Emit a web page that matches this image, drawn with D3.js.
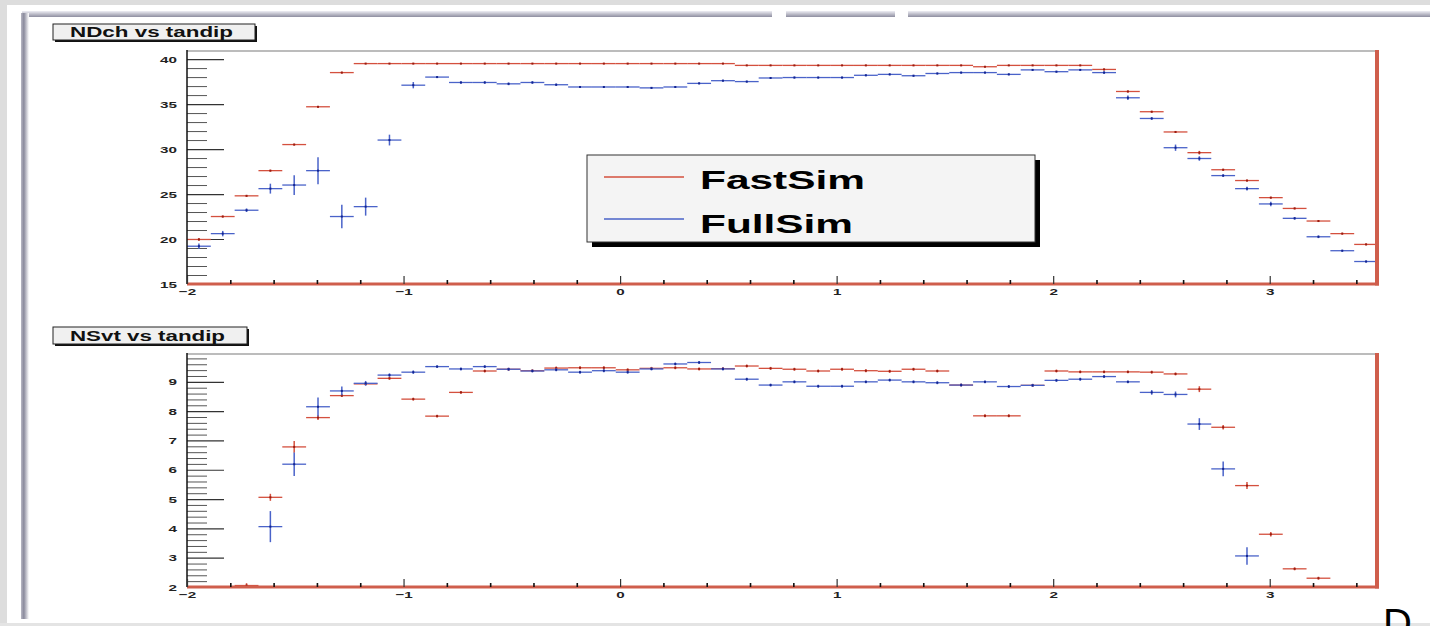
<!DOCTYPE html>
<html><head><meta charset="utf-8">
<script src="https://cdn.jsdelivr.net/npm/d3@7"></script>
<style>
html,body{margin:0;padding:0;background:#fff;overflow:hidden}
svg{display:block}
text{font-family:"Liberation Sans",Arial,Helvetica,sans-serif}
</style></head><body>
<svg id="c" width="1430" height="626"></svg>
<script>
// Histogram binning along tandip: 50 bins of width 0.11 starting at -2
const binLow = -2, binWidth = 0.11, nBins = 50;
const xDomain = [-2, 3.5];
const xMajorTicks = [-2, -1, 0, 1, 2, 3];
const ndchMajorTicks = [15, 20, 25, 30, 35, 40];
const nsvtMajorTicks = [2, 3, 4, 5, 6, 7, 8, 9];
const seriesNames = ["FastSim", "FullSim"];

// NDch vs tandip
const ndchFast = [19.95,22.5,24.8,27.6,30.5,34.7,38.5,39.5,39.5,39.5,
  39.5,39.5,39.5,39.5,39.5,39.5,39.5,39.5,39.5,39.5,
  39.5,39.5,39.5,39.3,39.3,39.3,39.3,39.3,39.3,39.3,
  39.3,39.3,39.3,39.15,39.3,39.3,39.3,39.3,38.85,36.4,
  34.15,31.9,29.6,27.7,26.5,24.6,23.4,22.0,20.6,19.4];
const ndchFastErr = [0.15,0.1,0.1,0.1,0.1,0.1,0.1,0.05,0.05,0.05,
  0.05,0.05,0.05,0.05,0.05,0.05,0.05,0.05,0.05,0.05,
  0.05,0.05,0.05,0.05,0.05,0.05,0.05,0.05,0.05,0.05,
  0.05,0.05,0.05,0.05,0.05,0.05,0.05,0.05,0.1,0.1,
  0.1,0.1,0.2,0.1,0.1,0.1,0.1,0.1,0.1,0.1];
const ndchFull = [19.2,20.6,23.2,25.6,26.0,27.6,22.5,23.6,31.0,37.1,
  38.0,37.4,37.4,37.25,37.4,37.15,36.9,36.9,36.9,36.8,
  36.9,37.3,37.6,37.5,37.9,37.95,37.95,37.95,38.2,38.3,
  38.15,38.4,38.5,38.5,38.3,38.8,38.6,38.8,38.5,35.7,
  33.4,30.15,28.95,27.05,25.6,23.9,22.3,20.25,18.7,17.5];
const ndchFullErr = [0.3,0.3,0.2,0.55,1.1,1.5,1.3,1.0,0.6,0.35,
  0.1,0.15,0.15,0.15,0.15,0.15,0.1,0.1,0.1,0.1,
  0.1,0.1,0.1,0.1,0.1,0.1,0.1,0.1,0.1,0.1,
  0.1,0.1,0.1,0.1,0.1,0.1,0.1,0.1,0.15,0.25,
  0.15,0.35,0.25,0.15,0.2,0.25,0.15,0.15,0.1,0.1];

// NSvt vs tandip
const nsvtFast = [null,null,2.05,5.06,6.78,7.78,8.53,8.93,9.12,8.41,
  7.83,8.64,9.37,9.43,9.38,9.47,9.48,9.48,9.41,9.46,
  9.48,9.44,9.45,9.54,9.46,9.43,9.37,9.43,9.38,9.36,
  9.43,9.37,8.89,7.84,7.84,8.88,9.37,9.34,9.34,9.34,
  9.33,9.27,8.75,7.45,5.46,3.8,2.62,2.3,null,null];
const nsvtFastErr = [0,0,0.08,0.12,0.2,0.08,0.05,0.05,0.05,0.05,
  0.05,0.05,0.05,0.05,0.05,0.05,0.05,0.05,0.05,0.05,
  0.05,0.05,0.05,0.05,0.05,0.05,0.05,0.05,0.05,0.05,
  0.05,0.05,0.05,0.05,0.05,0.05,0.05,0.05,0.05,0.05,
  0.05,0.05,0.1,0.08,0.12,0.08,0.05,0.05,0,0];
const nsvtFull = [null,null,null,4.06,6.19,8.15,8.69,8.95,9.23,9.33,
  9.52,9.44,9.52,9.43,9.37,9.41,9.33,9.38,9.33,9.44,
  9.61,9.66,9.44,9.09,8.89,9.0,8.85,8.85,9.0,9.06,
  9.0,8.97,8.89,9.0,8.84,8.88,9.05,9.09,9.18,9.0,
  8.64,8.57,7.56,6.03,3.06,null,null,null,null,null];
const nsvtFullErr = [0,0,0,0.53,0.4,0.32,0.15,0.08,0.06,0.06,
  0.05,0.05,0.05,0.05,0.05,0.05,0.05,0.05,0.05,0.05,
  0.05,0.05,0.05,0.05,0.05,0.05,0.05,0.05,0.05,0.05,
  0.05,0.05,0.05,0.05,0.05,0.05,0.05,0.05,0.05,0.05,
  0.08,0.1,0.2,0.25,0.3,0,0,0,0,0];

const COL = {
  fast: "#d4503e", fastDot: "#9a1c10",
  full: "#4a63c9", fullDot: "#132490",
  frameRed: "#cf5e4c"
};
const HSTRETCH = 1.6;

const svg = d3.select("#c");
const edges = d3.range(nBins + 1).map(i => binLow + i * binWidth);

// stretch text horizontally (the display is wider than the canvas it was drawn on)
function stretch(sel, k) {
  sel.each(function () {
    const w = this.getComputedTextLength();
    d3.select(this).attr("textLength", w * k).attr("lengthAdjust", "spacingAndGlyphs");
  });
}

// ---- window chrome ----
const defs = svg.append("defs");
const gTop = defs.append("linearGradient").attr("id", "gTop").attr("x1", 0).attr("y1", 0).attr("x2", 0).attr("y2", 1);
gTop.append("stop").attr("offset", "0%").attr("stop-color", "#eeeef4");
gTop.append("stop").attr("offset", "100%").attr("stop-color", "#8e8ea0");
const gLeft = defs.append("linearGradient").attr("id", "gLeft").attr("x1", 0).attr("y1", 0).attr("x2", 1).attr("y2", 0);
gLeft.append("stop").attr("offset", "0%").attr("stop-color", "#b8b8c4");
gLeft.append("stop").attr("offset", "35%").attr("stop-color", "#8a8a9c");
gLeft.append("stop").attr("offset", "100%").attr("stop-color", "#ffffff");

svg.append("rect").attr("x", 0).attr("y", 0).attr("width", 1430).attr("height", 5).attr("fill", "#dddddd");
svg.append("rect").attr("x", 0).attr("y", 0).attr("width", 7).attr("height", 626).attr("fill", "#dddddd");
svg.append("rect").attr("x", 0).attr("y", 623).attr("width", 1430).attr("height", 3).attr("fill", "#e4e4e4");
[[22, 772], [786, 895], [908, 1430]].forEach(([a, b]) => {
  svg.append("rect").attr("x", a).attr("y", 11).attr("width", b - a).attr("height", 6).attr("fill", "url(#gTop)");
});
svg.append("rect").attr("x", 21).attr("y", 13).attr("width", 8).attr("height", 606).attr("fill", "url(#gLeft)");

const x = d3.scaleLinear().domain(xDomain).range([187, 1378]);

function drawHist(g, y, vals, errs, lineCol, dotCol) {
  const bins = vals.map((v, i) => ({ v, e: errs[i], lo: edges[i], hi: edges[i + 1] }))
    .filter(d => d.v != null);
  const b = g.append("g").selectAll("g").data(bins).join("g");
  b.append("line")
    .attr("x1", d => x(d.lo)).attr("x2", d => x(d.hi))
    .attr("y1", d => y(d.v)).attr("y2", d => y(d.v))
    .attr("stroke", lineCol).attr("stroke-width", 1.3);
  b.filter(d => d.e > 0).append("line")
    .attr("x1", d => x((d.lo + d.hi) / 2)).attr("x2", d => x((d.lo + d.hi) / 2))
    .attr("y1", d => y(d.v - d.e)).attr("y2", d => y(d.v + d.e))
    .attr("stroke", lineCol).attr("stroke-width", 1.5);
  b.append("rect")
    .attr("x", d => x((d.lo + d.hi) / 2) - 1).attr("y", d => y(d.v) - 1)
    .attr("width", 2).attr("height", 2).attr("fill", dotCol);
}

function drawPad(p) {
  const g = svg.append("g");
  const y = d3.scaleLinear().domain(p.yDomain).range([p.bottom, p.top]);

  // title box
  const tb = p.titleBox;
  g.append("rect").attr("x", tb[0] + 2).attr("y", tb[1] + 2).attr("width", tb[2] - tb[0]).attr("height", tb[3] - tb[1]).attr("fill", "#111");
  g.append("rect").attr("x", tb[0]).attr("y", tb[1]).attr("width", tb[2] - tb[0]).attr("height", tb[3] - tb[1])
    .attr("fill", "#f0f0f0").attr("stroke", "#222").attr("stroke-width", 1);
  g.append("text").attr("x", tb[0] + 17).attr("y", tb[3] - 3).text(p.title)
    .attr("font-size", 14).attr("font-weight", "bold").attr("fill", "#111")
    .attr("textLength", p.titleLen).attr("lengthAdjust", "spacingAndGlyphs");

  // frame top
  g.append("line").attr("x1", 187).attr("x2", 1378).attr("y1", p.top).attr("y2", p.top)
    .attr("stroke", "#a6a6a6").attr("stroke-width", 1.5);

  // y axis ticks (pointing into the frame)
  g.append("g").attr("transform", "translate(187,0)")
    .call(d3.axisRight(y).tickValues(p.minor).tickSize(20).tickFormat(""))
    .call(s => s.select(".domain").remove())
    .selectAll("line").attr("stroke", "#555").attr("stroke-width", 1);
  g.append("g").attr("transform", "translate(187,0)")
    .call(d3.axisRight(y).tickValues(p.major).tickSize(37).tickFormat(""))
    .call(s => s.select(".domain").remove())
    .selectAll("line").attr("stroke", "#333").attr("stroke-width", 1.2);
  const yl = g.append("g").attr("transform", "translate(187,0)")
    .call(d3.axisLeft(y).tickValues(p.major).tickSize(0).tickPadding(10).tickFormat(d3.format("d")))
    .call(s => s.select(".domain").remove());
  yl.attr("font-family", null).attr("font-size", null);
  yl.selectAll("text").attr("font-size", 9.5).attr("font-weight", "bold").attr("fill", "#222");
  stretch(yl.selectAll("text"), HSTRETCH);

  // data
  drawHist(g, y, p.fast, p.fastErr, COL.fast, COL.fastDot);
  drawHist(g, y, p.full, p.fullErr, COL.full, COL.fullDot);

  // left axis line
  g.append("line").attr("x1", 187).attr("x2", 187).attr("y1", p.top - 1).attr("y2", p.bottom)
    .attr("stroke", "#111").attr("stroke-width", 1.5);
  // bottom and right frame
  g.append("line").attr("x1", 187).attr("x2", 1379).attr("y1", p.bottom).attr("y2", p.bottom)
    .attr("stroke", COL.frameRed).attr("stroke-width", 3);
  g.append("line").attr("x1", 1377).attr("x2", 1377).attr("y1", p.top - 1).attr("y2", p.bottom + 1.5)
    .attr("stroke", COL.frameRed).attr("stroke-width", 4);

  // x axis ticks (pointing up from the bottom edge)
  const xMinor = d3.range(-1.8, 3.5, 0.2).filter(v => Math.abs(v - Math.round(v)) > 0.01);
  g.append("g").attr("transform", `translate(0,${p.bottom})`)
    .call(d3.axisTop(x).tickValues(xMinor).tickSize(4).tickFormat(""))
    .call(s => s.select(".domain").remove())
    .selectAll("line").attr("stroke", "#111").attr("stroke-width", 1.6);
  g.append("g").attr("transform", `translate(0,${p.bottom})`)
    .call(d3.axisTop(x).tickValues(xMajorTicks).tickSize(8).tickFormat(""))
    .call(s => s.select(".domain").remove())
    .selectAll("line").attr("stroke", "#333").attr("stroke-width", 1.2);
  const xl = g.append("g").attr("transform", `translate(0,${p.bottom})`)
    .call(d3.axisBottom(x).tickValues(xMajorTicks).tickSize(0).tickPadding(4).tickFormat(d3.format("d")))
    .call(s => s.select(".domain").remove());
  xl.attr("font-family", null).attr("font-size", null);
  xl.selectAll("text").attr("font-size", 9.5).attr("font-weight", "bold").attr("fill", "#222");
  stretch(xl.selectAll("text"), HSTRETCH);
}

drawPad({
  title: "NDch vs tandip", titleBox: [53, 24, 255, 40], titleLen: 163,
  top: 51, bottom: 284, yDomain: [15, 40.9],
  major: ndchMajorTicks,
  minor: d3.range(16, 41, 1).filter(v => v % 5 !== 0),
  fast: ndchFast, fastErr: ndchFastErr, full: ndchFull, fullErr: ndchFullErr
});
drawPad({
  title: "NSvt vs tandip", titleBox: [53, 327, 247, 344], titleLen: 155,
  top: 354, bottom: 587, yDomain: [2, 9.95],
  major: nsvtMajorTicks,
  minor: d3.range(2.2, 9.9, 0.2).filter(v => Math.abs(v - Math.round(v)) > 0.01),
  fast: nsvtFast, fastErr: nsvtFastErr, full: nsvtFull, fullErr: nsvtFullErr
});

// legend
const lg = svg.append("g");
lg.append("rect").attr("x", 592).attr("y", 160).attr("width", 448).attr("height", 87).attr("fill", "#000");
lg.append("rect").attr("x", 587).attr("y", 155).attr("width", 448).attr("height", 87)
  .attr("fill", "#f4f4f4").attr("stroke", "#333").attr("stroke-width", 1);
const legendRows = [
  { name: seriesNames[0], col: COL.fast, ly: 177, ty: 188.5, len: 165 },
  { name: seriesNames[1], col: COL.full, ly: 219, ty: 232.5, len: 153 }
];
legendRows.forEach(r => {
  lg.append("line").attr("x1", 604).attr("x2", 684).attr("y1", r.ly).attr("y2", r.ly)
    .attr("stroke", r.col).attr("stroke-width", 1.5);
  lg.append("text").attr("x", 700).attr("y", r.ty).text(r.name)
    .attr("font-size", 26.5).attr("font-weight", "bold").attr("fill", "#000")
    .attr("textLength", r.len).attr("lengthAdjust", "spacingAndGlyphs");
});

// slide letter at the lower right corner
svg.append("text").attr("x", 1383).attr("y", 637).text("D")
  .attr("font-size", 40).attr("fill", "#000");
</script>
</body></html>
